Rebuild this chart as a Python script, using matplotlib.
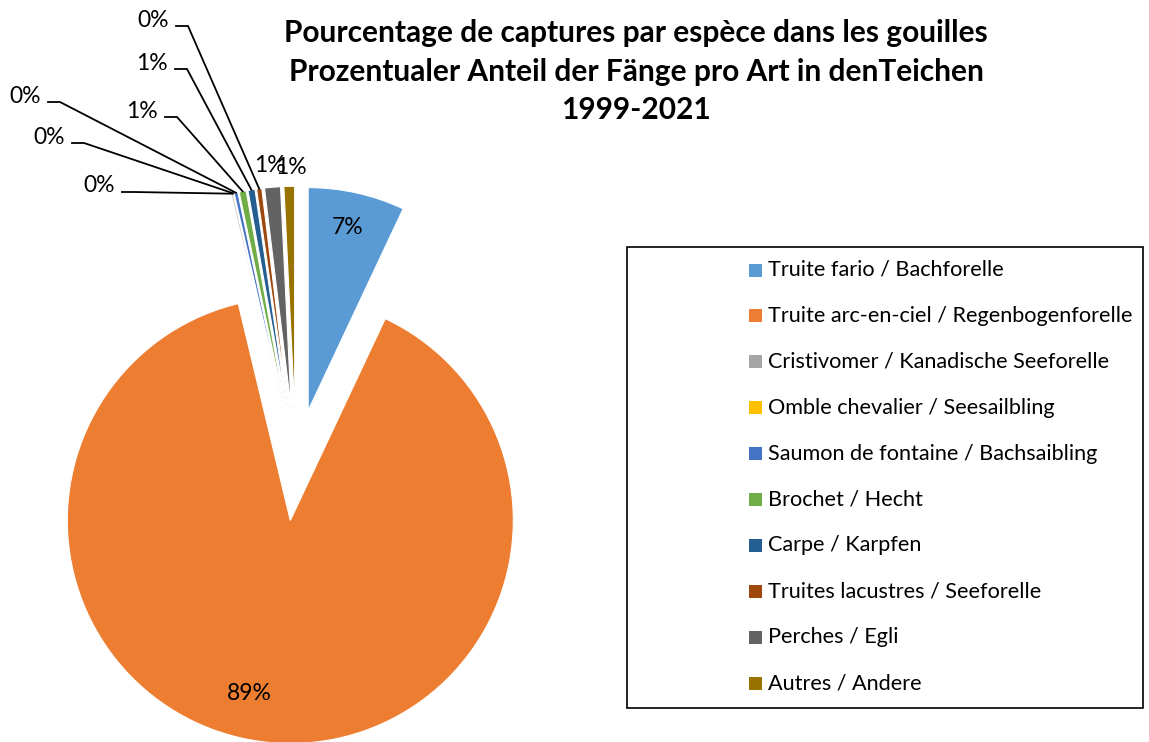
import matplotlib
matplotlib.use("Agg")
import matplotlib.pyplot as plt
from matplotlib.patches import Rectangle
import numpy as np

plt.rcParams["font.family"] = ["Lato", "DejaVu Sans"]

# data (share of catches, %)
species = [
    "Truite fario / Bachforelle",
    "Truite arc-en-ciel / Regenbogenforelle",
    "Cristivomer / Kanadische Seeforelle",
    "Omble chevalier / Seesailbling",
    "Saumon de fontaine / Bachsaibling",
    "Brochet / Hecht",
    "Carpe / Karpfen",
    "Truites lacustres / Seeforelle",
    "Perches / Egli",
    "Autres / Andere",
]
shares = [7.0, 89.25, 0.13, 0.03, 0.27, 0.51, 0.51, 0.38, 1.15, 0.77]
colors = ["#5B9BD5", "#ED7D31", "#A5A5A5", "#FFC000", "#4472C4",
          "#70AD47", "#255E91", "#9E480E", "#636363", "#997300"]
title_lines = [
    "Pourcentage de captures par espèce dans les gouilles",
    "Prozentualer Anteil der Fänge pro Art in denTeichen",
    "1999-2021",
]

W, H = 1149, 742
fig = plt.figure(figsize=(W / 100, H / 100), dpi=100)
ax = fig.add_axes([0, 0, 1, 1])

# pie geometry in pixels
cx, cy, R = 296, 465, 223


def px(x, y):
    return ((x - cx) / R, (cy - y) / R)


wedges, _ = ax.pie(shares, colors=colors, startangle=90, counterclock=False,
                   explode=[0.25] * len(shares), radius=1,
                   wedgeprops=dict(edgecolor="white", linewidth=0.8))
ax.set_xlim(-cx / R, (W - cx) / R)
ax.set_ylim((cy - H) / R, cy / R)
ax.axis("off")

pct = [f"{round(s):.0f}%" for s in shares]
fs_pct = 16.5

# labels inside / near the big slices
inside = {0: (348, 227), 1: (249, 693), 8: (270, 165), 9: (291, 168)}
for i, (x, y) in inside.items():
    ax.text(*px(x, y), pct[i], ha="center", va="center", fontsize=fs_pct)

# labels with leader lines for the thin slices
leader = {
    7: (188, 26),
    6: (187, 69),
    5: (177, 117),
    4: (60, 102),
    3: (84, 143),
    2: (134, 192),
}
for i, (x, y) in leader.items():
    w = wedges[i]
    mid = np.deg2rad((w.theta1 + w.theta2) / 2)
    ox, oy = w.center
    ex, ey = ox + np.cos(mid), oy + np.sin(mid)
    x0, y0 = px(x - 12, y)
    x1, y1 = px(x, y)
    ax.plot([x0, x1, ex], [y0, y1, ey], color="black", lw=1.3,
            solid_joinstyle="miter")
    ax.text(*px(x - 19, y - 6), pct[i], ha="right", va="center", fontsize=fs_pct)

# title
for line, y in zip(title_lines, [33, 72, 110]):
    fig.text(636 / W, 1 - y / H, line, ha="center", va="center",
             fontsize=21.5, fontweight="bold")

# legend box
fig.patches.append(Rectangle((627 / W, 1 - 708 / H), (1143 - 627) / W,
                             (708 - 247) / H, transform=fig.transFigure,
                             fill=False, edgecolor="black", lw=1.2))
for i, (name, w) in enumerate(zip(species, wedges)):
    y = 270 + i * 45.9
    fig.patches.append(Rectangle((749 / W, 1 - (y + 6.5) / H), 13 / W, 13 / H,
                                 transform=fig.transFigure,
                                 facecolor=w.get_facecolor(), edgecolor="none"))
    fig.text(768 / W, 1 - y / H, name, ha="left", va="center", fontsize=15.6)

fig.savefig("out.png", dpi=100)
